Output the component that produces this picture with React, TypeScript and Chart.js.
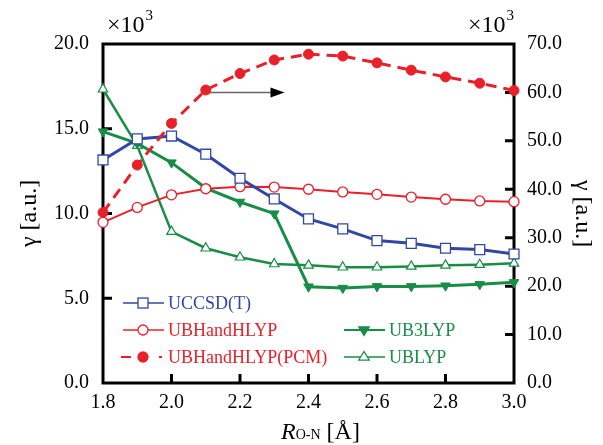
import React, { useEffect, useRef } from 'react';
import { Chart, registerables } from 'chart.js';
Chart.register(...registerables);

const R = [1.8, 1.9, 2.0, 2.1, 2.2, 2.3, 2.4, 2.5, 2.6, 2.7, 2.8, 2.9, 3.0];
const UCCSD = [13.16, 14.4, 14.57, 13.5, 12.08, 10.86, 9.68, 9.09, 8.4, 8.24, 7.95, 7.87, 7.61];
const UBHHLYP = [9.48, 10.36, 11.1, 11.46, 11.58, 11.56, 11.43, 11.27, 11.13, 10.97, 10.84, 10.74, 10.7];
const UB3LYP = [14.83, 14.14, 13.0, 11.5, 10.68, 9.99, 5.68, 5.6, 5.7, 5.7, 5.74, 5.82, 5.94];
const UBLYP = [17.33, 14.0, 8.93, 7.95, 7.42, 7.02, 6.94, 6.83, 6.83, 6.88, 6.94, 6.98, 7.06];
const PCM = [35.2, 45.0, 53.6, 60.5, 63.9, 66.7, 67.9, 67.5, 66.1, 64.6, 63.2, 61.9, 60.4];
const ARROW_FROM = [2.105, 60];
const ARROW_TO = [2.33, 60];
const LEFT_TICKS = [5, 10, 15];
const RIGHT_TICKS = [10, 20, 30, 40, 50, 60];
const X_TICKS = [2.0, 2.2, 2.4, 2.6, 2.8];

const BLUE = '#3048a2';
const RED = '#e8202a';
const GREEN = '#188d46';
const SERIF = 'Liberation Serif';
const F = (size: number, style = '') => `${style ? style + ' ' : ''}${size}px "Liberation Serif", serif`;

const pts = (ys: number[]) => R.map((x, i) => ({ x, y: ys[i] }));

function drawMarker(ctx: CanvasRenderingContext2D, kind: string, x: number, y: number, color: string) {
  ctx.save();
  ctx.lineWidth = 1.3;
  ctx.strokeStyle = color;
  ctx.fillStyle = '#fff';
  ctx.setLineDash([]);
  if (kind === 'rect') {
    const s = 5;
    ctx.fillRect(x - s, y - s, 2 * s, 2 * s);
    ctx.strokeRect(x - s, y - s, 2 * s, 2 * s);
  } else if (kind === 'circle' || kind === 'fcircle') {
    ctx.beginPath();
    ctx.arc(x, y, 5, 0, Math.PI * 2);
    if (kind === 'fcircle') ctx.fillStyle = color;
    ctx.fill();
    ctx.stroke();
  } else if (kind === 'down' || kind === 'up') {
    const r = 5.5;
    const d = kind === 'down' ? -1 : 1;
    ctx.beginPath();
    ctx.moveTo(x, y - d * r);
    ctx.lineTo(x - r * 0.95, y + d * r * 0.55);
    ctx.lineTo(x + r * 0.95, y + d * r * 0.55);
    ctx.closePath();
    if (kind === 'down') ctx.fillStyle = color;
    ctx.fill();
    ctx.stroke();
  }
  ctx.restore();
}

const deco = {
  id: 'deco',
  beforeDatasetsDraw(chart: any) {
    const { ctx, chartArea: a, scales } = chart;
    ctx.save();
    ctx.strokeStyle = '#000';
    ctx.lineWidth = 3;
    ctx.strokeRect(a.left, a.top, a.width, a.height);
    ctx.beginPath();
    for (const v of LEFT_TICKS) {
      const y = scales.y.getPixelForValue(v);
      ctx.moveTo(a.left, y); ctx.lineTo(a.left + 9, y);
    }
    for (const v of RIGHT_TICKS) {
      const y = scales.y2.getPixelForValue(v);
      ctx.moveTo(a.right, y); ctx.lineTo(a.right - 9, y);
    }
    for (const v of X_TICKS) {
      const x = scales.x.getPixelForValue(v);
      ctx.moveTo(x, a.bottom); ctx.lineTo(x, a.bottom - 9);
    }
    ctx.stroke();
    const x0 = scales.x.getPixelForValue(ARROW_FROM[0]);
    const x1 = scales.x.getPixelForValue(ARROW_TO[0]);
    const ya = scales.y2.getPixelForValue(ARROW_FROM[1]);
    ctx.strokeStyle = '#666';
    ctx.lineWidth = 1.5;
    ctx.beginPath();
    ctx.moveTo(x0, ya); ctx.lineTo(x1 - 10, ya);
    ctx.stroke();
    ctx.fillStyle = '#000';
    ctx.beginPath();
    ctx.moveTo(x1, ya); ctx.lineTo(x1 - 14, ya - 5); ctx.lineTo(x1 - 14, ya + 5);
    ctx.closePath(); ctx.fill();
    ctx.restore();
  },
  afterDraw(chart: any) {
    const { ctx, chartArea: a } = chart;
    ctx.save();
    ctx.fillStyle = '#000';
    ctx.font = F(24);
    ctx.textAlign = 'center';
    ctx.textBaseline = 'middle';
    ctx.save();
    ctx.translate(30, (a.top + a.bottom) / 2);
    ctx.rotate(-Math.PI / 2);
    ctx.fillText('γ [a.u.]', 0, 0);
    ctx.restore();
    ctx.save();
    ctx.translate(582, (a.top + a.bottom) / 2);
    ctx.rotate(Math.PI / 2);
    ctx.fillText('γ [a.u.]', 0, 0);
    ctx.restore();
    ctx.textBaseline = 'alphabetic';
    ctx.textAlign = 'left';
    const p1 = 'R', p2 = 'O-N', p3 = ' [Å]';
    ctx.font = F(24, 'italic');
    const w1 = ctx.measureText(p1).width;
    ctx.font = F(14);
    const w2 = ctx.measureText(p2).width;
    ctx.font = F(24);
    const w3 = ctx.measureText(p3).width;
    let tx = (a.left + a.right) / 2 - (w1 + w2 + w3) / 2 + 12;
    const by = 439;
    ctx.font = F(24, 'italic');
    ctx.fillText(p1, tx, by); tx += w1;
    ctx.font = F(14);
    ctx.fillText(p2, tx, by); tx += w2;
    ctx.font = F(24);
    ctx.fillText(p3, tx, by);
    const mult = (x: number) => {
      ctx.font = F(24);
      ctx.fillText('×10', x, 32);
      const w = ctx.measureText('×10').width;
      ctx.font = F(15);
      ctx.fillText('3', x + w + 1, 20);
    };
    mult(a.left + 4);
    mult(a.right - 46);
    const items = [
      { label: 'UCCSD(T)', color: BLUE, kind: 'rect', x: 123, y: 303, dash: false, lw: 1.5 },
      { label: 'UBHandHLYP', color: RED, kind: 'circle', x: 123, y: 330, dash: false, lw: 1.5 },
      { label: 'UBHandHLYP(PCM)', color: RED, kind: 'fcircle', x: 123, y: 357, dash: true, lw: 2 },
      { label: 'UB3LYP', color: GREEN, kind: 'down', x: 344, y: 330, dash: false, lw: 2 },
      { label: 'UBLYP', color: GREEN, kind: 'up', x: 344, y: 357, dash: false, lw: 1.5 },
    ];
    for (const it of items) {
      ctx.strokeStyle = it.color;
      ctx.lineWidth = it.lw;
      ctx.beginPath();
      if (it.dash) {
        ctx.moveTo(it.x - 2, it.y); ctx.lineTo(it.x + 8, it.y);
        ctx.moveTo(it.x + 36, it.y); ctx.lineTo(it.x + 39, it.y);
      } else {
        ctx.moveTo(it.x, it.y); ctx.lineTo(it.x + 41, it.y);
      }
      ctx.stroke();
      drawMarker(ctx, it.kind, it.x + 20, it.y, it.color);
      ctx.fillStyle = it.color;
      ctx.font = F(18);
      ctx.textBaseline = 'middle';
      ctx.textAlign = 'left';
      ctx.fillText(it.label, it.x + 45, it.y + 1);
    }
    ctx.restore();
  },
};

export default function App() {
  const ref = useRef<HTMLCanvasElement>(null);
  useEffect(() => {
    document.body.style.margin = '0';
    Chart.defaults.font.family = SERIF;
    // warm up the font
    const warm = document.createElement('canvas').getContext('2d');
    if (warm) {
      warm.font = F(20); warm.fillText('0123456789 γ Å', 0, 20);
      warm.font = F(20, 'italic'); warm.fillText('R', 0, 20);
    }
    const tickFont = { family: SERIF, size: 20 };
    const chart = new Chart(ref.current!, {
      type: 'line',
      data: {
        datasets: [
          {
            label: 'UBHandHLYP(PCM)', data: pts(PCM), yAxisID: 'y2', borderColor: RED, backgroundColor: RED,
            borderWidth: 3, borderDash: [11, 7], pointStyle: 'circle', pointRadius: 5, pointBorderWidth: 1,
            pointBackgroundColor: RED, clip: false,
          },
          {
            label: 'UCCSD(T)', data: pts(UCCSD), yAxisID: 'y', borderColor: BLUE, backgroundColor: '#fff',
            borderWidth: 3, pointStyle: 'rect', pointRadius: 7, pointBorderWidth: 1.3, clip: false,
          },
          {
            label: 'UBHandHLYP', data: pts(UBHHLYP), yAxisID: 'y', borderColor: RED, backgroundColor: '#fff',
            borderWidth: 2, pointStyle: 'circle', pointRadius: 5, pointBorderWidth: 1.3, clip: false,
          },
          {
            label: 'UB3LYP', data: pts(UB3LYP), yAxisID: 'y', borderColor: GREEN, backgroundColor: GREEN,
            borderWidth: 3, pointStyle: 'triangle', rotation: 180, pointRadius: 5.5, pointBorderWidth: 1, clip: false,
          },
          {
            label: 'UBLYP', data: pts(UBLYP), yAxisID: 'y', borderColor: GREEN, backgroundColor: '#fff',
            borderWidth: 2.5, pointStyle: 'triangle', pointRadius: 5.5, pointBorderWidth: 1.2, clip: false,
          },
        ],
      },
      options: {
        responsive: false,
        animation: false,
        layout: { padding: { top: 44, left: 0, right: 0, bottom: 0 } },
        plugins: { legend: { display: false }, tooltip: { enabled: false } },
        elements: { line: { tension: 0 } },
        scales: {
          x: {
            type: 'linear', min: 1.8, max: 3.0,
            afterFit: (s: any) => { s.height = 62; },
            afterBuildTicks: (s: any) => { s.ticks = R.filter((_, i) => i % 2 === 0).map((v) => ({ value: v })); },
            grid: { display: false, drawTicks: false }, border: { display: false },
            ticks: { font: tickFont, color: '#000', padding: 8, maxRotation: 0, callback: (v: any) => Number(v).toFixed(1) },
          },
          y: {
            position: 'left', min: 0, max: 20,
            afterFit: (s: any) => { s.width = 103; },
            grid: { display: false, drawTicks: false }, border: { display: false },
            ticks: { stepSize: 5, font: tickFont, color: '#000', padding: 14, callback: (v: any) => Number(v).toFixed(1) },
          },
          y2: {
            position: 'right', min: 0, max: 70,
            afterFit: (s: any) => { s.width = 89; },
            grid: { display: false, drawTicks: false }, border: { display: false },
            ticks: { stepSize: 10, font: tickFont, color: '#000', padding: 13, callback: (v: any) => Number(v).toFixed(1) },
          },
        },
      },
      plugins: [deco],
    } as any);
    const redraw = () => { try { chart.update('none'); } catch (e) { /* ignore */ } };
    const t = setTimeout(redraw, 50);
    const fonts: any = (document as any).fonts;
    if (fonts && fonts.ready) fonts.ready.then(redraw);
    return () => { clearTimeout(t); chart.destroy(); };
  }, []);
  return (
    <div style={{ width: 603, height: 445, fontFamily: '"Liberation Serif"' }}>
      <canvas ref={ref} width={603} height={445} />
    </div>
  );
}
